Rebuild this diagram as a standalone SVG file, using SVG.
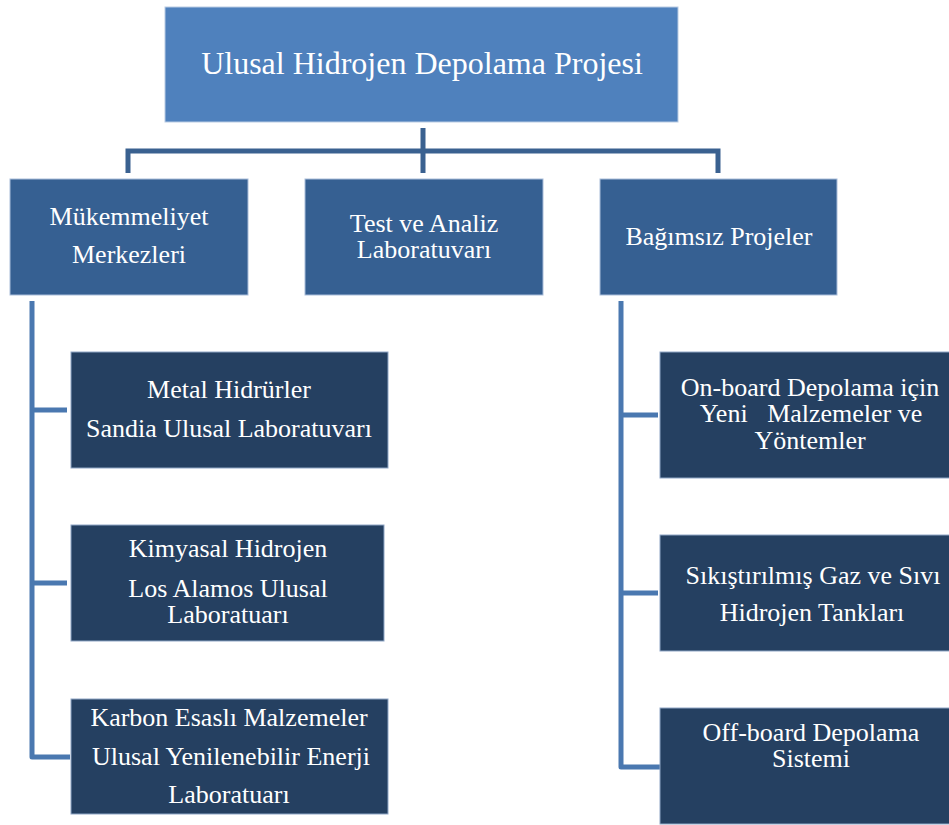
<svg xmlns="http://www.w3.org/2000/svg" width="949" height="825" viewBox="0 0 949 825">
<style>
.t{font-family:"Liberation Serif","Times New Roman",serif;fill:#ffffff;text-anchor:middle;font-size:26px}
.top{fill:#4F81BD;stroke:#B9CBE3;stroke-width:1}
.l2{fill:#366092;stroke:#A9BDDA;stroke-width:1}
.l3{fill:#254061;stroke:#8FA6C6;stroke-width:1}
.c1{fill:none;stroke:#3A6190;stroke-width:5}
.c2{fill:none;stroke:#4A78B0;stroke-width:5;stroke-linejoin:round}
</style>
<rect width="949" height="825" fill="#ffffff"/>
<g id="connectors">
<path class="c1" d="M423 128V151M128 173V151H718V173M423 151V173"/>
<path class="c2" d="M32 301V757H70M32 410H67M32 583H67"/>
<path class="c2" d="M621 301V767H660M621 415H658M621 593H658"/>
</g>
<g id="root">
<rect class="top" x="165" y="7" width="513" height="115"/>
<text class="t" x="422" y="74" style="font-size:32px">Ulusal Hidrojen Depolama Projesi</text>
</g>
<g id="mukemmeliyet">
<rect class="l2" x="10" y="179" width="238" height="116"/>
<text class="t" x="129" y="225">Mükemmeliyet</text>
<text class="t" x="129" y="263">Merkezleri</text>
</g>
<g id="test">
<rect class="l2" x="305" y="179" width="238" height="116"/>
<text class="t" x="424" y="232">Test ve Analiz</text>
<text class="t" x="424" y="258">Laboratuvarı</text>
</g>
<g id="bagimsiz">
<rect class="l2" x="600" y="179" width="237" height="116"/>
<text class="t" x="719" y="245">Bağımsız Projeler</text>
</g>
<g id="metal">
<rect class="l3" x="71" y="352" width="317" height="116"/>
<text class="t" x="229" y="398">Metal Hidrürler</text>
<text class="t" x="229" y="437">Sandia Ulusal Laboratuvarı</text>
</g>
<g id="kimyasal">
<rect class="l3" x="71" y="525" width="313" height="116"/>
<text class="t" x="228" y="557">Kimyasal Hidrojen</text>
<text class="t" x="228" y="597">Los Alamos Ulusal</text>
<text class="t" x="228" y="623">Laboratuarı</text>
</g>
<g id="karbon">
<rect class="l3" x="71" y="699" width="317" height="115"/>
<text class="t" x="229" y="726">Karbon Esaslı Malzemeler</text>
<text class="t" x="231" y="765">Ulusal Yenilenebilir Enerji</text>
<text class="t" x="229" y="803">Laboratuarı</text>
</g>
<g id="onboard">
<rect class="l3" x="660" y="352" width="320" height="126"/>
<text class="t" x="810" y="396">On-board Depolama için</text>
<text class="t" x="811" y="422" xml:space="preserve">Yeni   Malzemeler ve</text>
<text class="t" x="810" y="449">Yöntemler</text>
</g>
<g id="sikistirilmis">
<rect class="l3" x="660" y="535" width="320" height="116"/>
<text class="t" x="813" y="584">Sıkıştırılmış Gaz ve Sıvı</text>
<text class="t" x="812" y="621">Hidrojen Tankları</text>
</g>
<g id="offboard">
<rect class="l3" x="660" y="708" width="320" height="116"/>
<text class="t" x="811" y="741">Off-board Depolama</text>
<text class="t" x="811" y="767">Sistemi</text>
</g>
</svg>
